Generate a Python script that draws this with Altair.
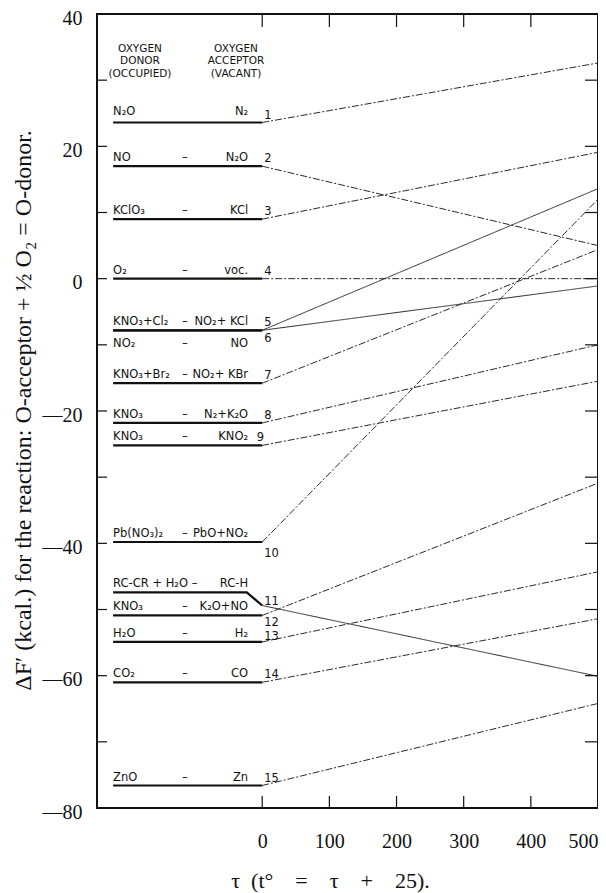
import altair as alt
import pandas as pd

# ---------------- data ----------------
reaction_ids = list(range(1, 16))
donors = ["N₂O", "NO", "KClO₃", "O₂", "KNO₃+Cl₂", "NO₂", "KNO₃+Br₂", "KNO₃",
          "KNO₃", "Pb(NO₃)₂", "RC-CR + H₂O  –", "KNO₃", "H₂O", "CO₂", "ZnO"]
acceptors = ["N₂", "N₂O", "KCl", "voc.", "NO₂+ KCl", "NO", "NO₂+ KBr", "N₂+K₂O",
             "KNO₂", "PbO+NO₂", "RC-H", "K₂O+NO", "H₂", "CO", "Zn"]
dashes = ["", "–", "–", "–", "–", "–", "–", "–", "–", "–", "", "–", "–", "–", "–"]
number_labels = ["1", "2", "3", "4", "5", "6", "7", "8", "9", "10",
                 "11", "12", "13", "14", "15"]

# ΔF at τ = 0 and τ = 500 (kcal.)
dF_at_0 = [23.6, 17.0, 9.0, 0.0, -7.8, -7.8, -15.8, -21.8, -25.2, -39.8,
           -49.4, -50.9, -54.9, -61.0, -76.6]
dF_at_500 = [32.6, 5.0, 19.1, 0.0, 13.6, -1.1, 4.4, -10.0, -15.5, 12.0,
             -60.1, -30.9, -44.3, -51.4, -64.2]
# level of the horizontal (label) part and where it bends (only 11 differs)
dF_level = [23.6, 17.0, 9.0, 0.0, -7.8, -7.8, -15.8, -21.8, -25.2, -39.8,
            -47.4, -50.9, -54.9, -61.0, -76.6]
bend_tau = [0, 0, 0, 0, 0, 0, 0, 0, 0, 0, -23, 0, 0, 0, 0]

x_tick_values = [0, 100, 200, 300, 400, 500]
x_inner_ticks = [0, 100, 200, 300, 400]
y_tick_values = [-80, -60, -40, -20, 0, 20, 40]
y_inner_ticks = [30, 20, 10, 0, -10, -20, -30, -40, -50, -60, -70]

header_text = ["OXYGEN\nDONOR\n(OCCUPIED)", "OXYGEN\nACCEPTOR\n(VACANT)"]

# ---------------- layout / style (not data) ----------------
W, H = 501, 794
X_DOMAIN = [-246, 500]
Y_DOMAIN = [-80, 40]
PX = H / (Y_DOMAIN[1] - Y_DOMAIN[0])      # pixels per kcal
LEFT_TAU = -222                          # start of the label column
DASH_TAU = -115
ACC_TAU = -21
NUM_TAU = 3
HEADER_TAU = [-182, -39]
HEADER_DF = 35.5
label_dy = {1: -8, 6: 17}                # pixel shifts (default -5)
number_dy = {6: 12, 10: 15, 11: -1, 12: 11, 13: -2}   # default -4
number_dtau = {9: -11}
solid_ids = [5, 6, 11]
SERIF = "Liberation Serif"
SANS = "DejaVu Sans"

# ---------------- tables ----------------
left_rows, right_rows, lab_rows = [], [], []
for i, rid in enumerate(reaction_ids):
    left_rows += [
        {"r": rid, "tau": LEFT_TAU, "dF": dF_level[i], "o": 0},
        {"r": rid, "tau": bend_tau[i], "dF": dF_level[i], "o": 1},
        {"r": rid, "tau": 0, "dF": dF_at_0[i], "o": 2},
    ]
    style = "solid" if rid in solid_ids else "dashdot"
    right_rows += [
        {"r": rid, "tau": 0, "dF": dF_at_0[i], "o": 0, "style": style},
        {"r": rid, "tau": 500, "dF": dF_at_500[i], "o": 1, "style": style},
    ]
    ly = dF_level[i] - label_dy.get(rid, -5) / PX
    ny = dF_at_0[i] - number_dy.get(rid, -4) / PX
    lab_rows.append({
        "r": rid, "donor": donors[i], "acceptor": acceptors[i], "dash": dashes[i],
        "num": number_labels[i], "ly": ly, "ny": ny,
        "ntau": NUM_TAU + number_dtau.get(rid, 0),
    })

left_df = pd.DataFrame(left_rows)
right_df = pd.DataFrame(right_rows)
lab_df = pd.DataFrame(lab_rows)
lab_df["tau_d"] = LEFT_TAU
lab_df["tau_dash"] = DASH_TAU
lab_df["tau_a"] = ACC_TAU
head_df = pd.DataFrame({"tau": HEADER_TAU, "dF": [HEADER_DF] * 2, "t": header_text})

xs = alt.Scale(domain=X_DOMAIN, nice=False, zero=False)
ys = alt.Scale(domain=Y_DOMAIN, nice=False, zero=False)

x_axis = alt.Axis(
    values=x_tick_values, ticks=False, domain=False, grid=False,
    labelFont=SERIF, labelFontSize=20, labelColor="#111", labelPadding=23,
    labelAlign={"condition": {"test": "datum.value == 500", "value": "right"}, "value": "center"},
    title="τ\u2002(t°\u2003=\u2003τ\u2003+\u200325).", titleFont=SERIF, titleFontSize=22,
    titleFontWeight="normal", titleColor="#111", titleX=233, titleY=79,
    titleAlign="center", titleBaseline="alphabetic",
)
y_axis = alt.Axis(
    values=y_tick_values, ticks=False, domain=False, grid=False,
    labelFont=SERIF, labelFontSize=20, labelColor="#111", labelPadding=15,
    labelOffset=4,
    labelExpr="datum.value < 0 ? '\u2014' + format(abs(datum.value), 'd') : datum.label",
    title="ΔF′ (kcal.) for the reaction:  O-acceptor + ½ O₂ = O-donor.",
    titleFont=SERIF, titleFontSize=24, titleFontWeight="normal", titleColor="#111",
    titleX=-74, titleY=H / 2 - 1, titleAngle=270, titleAlign="center", titleBaseline="middle",
)

left_lines = alt.Chart(left_df).mark_line(color="#111", strokeWidth=2.2).encode(
    x=alt.X("tau:Q", scale=xs, axis=x_axis),
    y=alt.Y("dF:Q", scale=ys, axis=y_axis),
    detail="r:N", order="o:Q",
)
right_lines = alt.Chart(right_df).mark_line(color="#2a2a2a", strokeWidth=1).encode(
    x=alt.X("tau:Q", scale=xs), y=alt.Y("dF:Q", scale=ys),
    detail="r:N", order="o:Q",
    strokeDash=alt.StrokeDash("style:N", legend=None,
                              scale=alt.Scale(domain=["solid", "dashdot"],
                                              range=[[1, 0], [7, 2, 2, 2]])),
)

txt = dict(font=SANS, fontSize=11.5, color="#111", baseline="alphabetic")
donor_t = alt.Chart(lab_df).mark_text(align="left", **txt).encode(
    x=alt.X("tau_d:Q", scale=xs), y=alt.Y("ly:Q", scale=ys), text="donor:N")
dash_t = alt.Chart(lab_df).mark_text(align="center", **txt).encode(
    x=alt.X("tau_dash:Q", scale=xs), y=alt.Y("ly:Q", scale=ys), text="dash:N")
acc_t = alt.Chart(lab_df).mark_text(align="right", **txt).encode(
    x=alt.X("tau_a:Q", scale=xs), y=alt.Y("ly:Q", scale=ys), text="acceptor:N")
num_t = alt.Chart(lab_df).mark_text(align="left", **txt).encode(
    x=alt.X("ntau:Q", scale=xs), y=alt.Y("ny:Q", scale=ys), text="num:N")
head_t = alt.Chart(head_df).mark_text(
    align="center", baseline="top", lineBreak="\n", lineHeight=12.5,
    font=SANS, fontSize=10.5, color="#111").encode(
    x=alt.X("tau:Q", scale=xs), y=alt.Y("dF:Q", scale=ys), text="t:N")

# inner tick marks on the frame
tick_style = dict(color="#111", strokeWidth=1.2)
top_ticks = alt.Chart(pd.DataFrame({"v": x_inner_ticks})).mark_rule(**tick_style).encode(
    x=alt.X("v:Q", scale=xs), y=alt.value(0), y2=alt.value(13))
bot_ticks = alt.Chart(pd.DataFrame({"v": x_inner_ticks})).mark_rule(**tick_style).encode(
    x=alt.X("v:Q", scale=xs), y=alt.value(H), y2=alt.value(H - 12))
left_ticks = alt.Chart(pd.DataFrame({"v": y_inner_ticks})).mark_rule(**tick_style).encode(
    y=alt.Y("v:Q", scale=ys), x=alt.value(0), x2=alt.value(10))
right_ticks = alt.Chart(pd.DataFrame({"v": y_inner_ticks})).mark_rule(**tick_style).encode(
    y=alt.Y("v:Q", scale=ys), x=alt.value(W - 13), x2=alt.value(W))

chart = alt.layer(
    left_lines, right_lines, donor_t, dash_t, acc_t, num_t, head_t,
    top_ticks, bot_ticks, left_ticks, right_ticks,
).properties(
    width=W, height=H,
    autosize=alt.AutoSizeParams(type="none"),
    padding={"left": 89, "top": 6, "right": 0, "bottom": 85},
    background="white",
).configure_view(stroke="#111", strokeWidth=2)

chart.save("out.html", embed_options={"renderer": "svg", "actions": False})
